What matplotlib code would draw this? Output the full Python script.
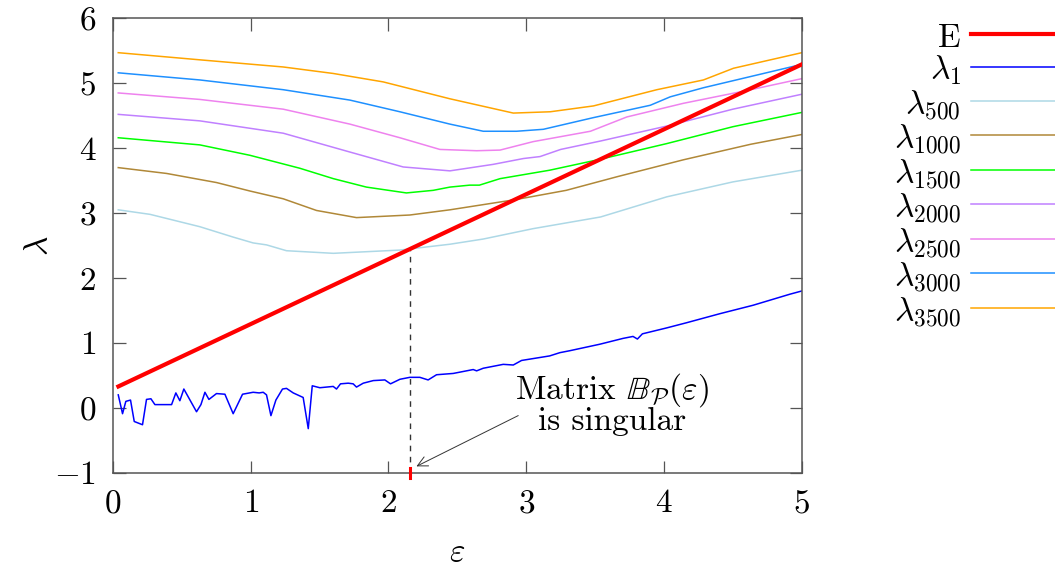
import matplotlib
matplotlib.use('Agg')
import matplotlib.pyplot as plt

plt.rcParams['font.family'] = 'serif'
plt.rcParams['font.serif'] = ['cmr10']
plt.rcParams['mathtext.fontset'] = 'cm'
plt.rcParams['axes.formatter.use_mathtext'] = True
plt.rcParams['axes.unicode_minus'] = True

# ---- data ----
eps_E = [0.04, 5.0]
E = [0.33, 5.29]

eps_l1 = [0.039, 0.07, 0.094, 0.128, 0.155, 0.215, 0.244, 0.276, 0.305, 0.426, 0.457,
          0.486, 0.515, 0.607, 0.639, 0.668, 0.697, 0.752, 0.813, 0.873, 0.941, 1.018,
          1.062, 1.091, 1.115, 1.147, 1.183, 1.231, 1.26, 1.309, 1.381, 1.418, 1.447,
          1.502, 1.599, 1.623, 1.652, 1.708, 1.744, 1.768, 1.817, 1.89, 1.974, 2.015,
          2.083, 2.155, 2.228, 2.288, 2.349, 2.47, 2.615, 2.64, 2.688, 2.833, 2.906,
          2.966, 3.17, 3.244, 3.316, 3.534, 3.703, 3.775, 3.807, 3.843, 4.017, 4.162,
          4.405, 4.646, 4.913, 5.0]
l1 = [0.2, -0.09, 0.1, 0.12, -0.21, -0.26, 0.13, 0.14, 0.05, 0.05, 0.23,
      0.11, 0.29, -0.06, 0.05, 0.24, 0.13, 0.22, 0.21, -0.09, 0.21, 0.24,
      0.23, 0.24, 0.2, -0.12, 0.12, 0.29, 0.3, 0.23, 0.16, -0.32, 0.34,
      0.31, 0.33, 0.29, 0.37, 0.38, 0.37, 0.32, 0.38, 0.42, 0.43, 0.37,
      0.44, 0.47, 0.47, 0.43, 0.51, 0.53, 0.59, 0.57, 0.61, 0.67, 0.66,
      0.73, 0.8, 0.85, 0.88, 0.98, 1.07, 1.1, 1.06, 1.14, 1.23, 1.31,
      1.45, 1.58, 1.75, 1.8]

eps_l500 = [0.039, 0.27, 0.631, 0.873, 1.018, 1.115, 1.26, 1.6, 2.083, 2.446, 2.688,
            3.05, 3.54, 4.02, 4.5, 5.0]
l500 = [3.05, 2.98, 2.79, 2.63, 2.54, 2.51, 2.42, 2.38, 2.43, 2.52, 2.6,
        2.76, 2.94, 3.25, 3.48, 3.66]

eps_l1000 = [0.039, 0.39, 0.752, 0.994, 1.236, 1.478, 1.768, 1.962, 2.155, 2.446, 2.93,
             3.29, 3.66, 4.14, 4.63, 5.0]
l1000 = [3.7, 3.61, 3.47, 3.34, 3.22, 3.04, 2.93, 2.95, 2.97, 3.05, 3.21,
         3.35, 3.56, 3.82, 4.06, 4.21]

eps_l1500 = [0.039, 0.631, 0.994, 1.357, 1.6, 1.84, 2.13, 2.325, 2.446, 2.59, 2.66,
             2.81, 3.17, 3.54, 4.02, 4.5, 5.0]
l1500 = [4.16, 4.05, 3.89, 3.69, 3.53, 3.4, 3.31, 3.35, 3.4, 3.43, 3.43,
         3.53, 3.66, 3.83, 4.07, 4.33, 4.55]

eps_l2000 = [0.039, 0.631, 1.236, 1.72, 2.107, 2.446, 2.76, 2.98, 3.1, 3.25, 3.54,
             4.02, 4.5, 5.0]
l2000 = [4.52, 4.42, 4.23, 3.94, 3.71, 3.65, 3.75, 3.84, 3.87, 3.98, 4.11,
         4.34, 4.6, 4.83]

eps_l2500 = [0.039, 0.631, 1.236, 1.72, 2.083, 2.373, 2.64, 2.81, 3.05, 3.466, 3.73,
             4.14, 4.63, 5.0]
l2500 = [4.85, 4.75, 4.6, 4.37, 4.16, 3.98, 3.96, 3.97, 4.1, 4.26, 4.48,
         4.69, 4.9, 5.07]

eps_l3000 = [0.039, 0.631, 1.236, 1.72, 2.083, 2.446, 2.688, 2.93, 3.124, 3.488, 3.9,
             4.045, 4.286, 5.0]
l3000 = [5.16, 5.05, 4.9, 4.74, 4.56, 4.37, 4.26, 4.26, 4.29, 4.47, 4.66,
         4.79, 4.93, 5.29]

eps_l3500 = [0.039, 0.631, 1.236, 1.599, 1.962, 2.204, 2.446, 2.906, 3.174, 3.488, 3.948,
             4.286, 4.504, 5.0]
l3500 = [5.47, 5.36, 5.25, 5.15, 5.02, 4.89, 4.76, 4.54, 4.56, 4.65, 4.9,
         5.05, 5.23, 5.47]

eps_singular = 2.155
E_singular = 2.46

xticks = [0, 1, 2, 3, 4, 5]
yticks = [-1, 0, 1, 2, 3, 4, 5, 6]

fig = plt.figure(figsize=(10.55, 5.71), dpi=100)
ax = fig.add_axes([0.107, 0.172, 0.653, 0.796])

ax.plot(eps_E, E, color='#ff0000', lw=3.0, label='E', zorder=5)
ax.plot(eps_l1, l1, color='#0000ff', lw=1.1, label=r'$\lambda_{1}$')
series = [
    (eps_l500, l500, '#add8e6', r'$\lambda_{500}$'),
    (eps_l1000, l1000, '#b08838', r'$\lambda_{1000}$'),
    (eps_l1500, l1500, '#00ff00', r'$\lambda_{1500}$'),
    (eps_l2000, l2000, '#c080ff', r'$\lambda_{2000}$'),
    (eps_l2500, l2500, '#ee82ee', r'$\lambda_{2500}$'),
    (eps_l3000, l3000, '#1e90ff', r'$\lambda_{3000}$'),
    (eps_l3500, l3500, '#ffa500', r'$\lambda_{3500}$'),
]
for xs, ys, c, lab in series:
    ax.plot(xs, ys, color=c, lw=1.1, label=lab)

# singular point marker
ax.plot([eps_singular, eps_singular], [-1, E_singular], ls=(0, (4, 4)), color='#333333', lw=1.0)
ax.plot([eps_singular, eps_singular], [-1.08, -0.93], color='#ff0000', lw=2.2, clip_on=False, zorder=6)

ax.annotate('', xy=(eps_singular + 0.03, -0.92), xytext=(2.96, -0.1),
            arrowprops=dict(arrowstyle='->', color='#333333', lw=0.7, mutation_scale=18))
ax.text(3.62, 0.07, 'Matrix $\\mathbb{B}_{\\mathcal{P}}(\\varepsilon)$\nis singular',
        ha='center', va='center', fontsize=24, linespacing=0.9)

ax.set_xlim(0, 5)
ax.set_ylim(-1, 6)
ax.set_xticks(xticks)
ax.set_yticks(yticks)
ax.tick_params(direction='in', length=9, width=0.9, color='#555555', top=True, right=True,
               labelsize=24, pad=12)
for s in ax.spines.values():
    s.set_color('#555555')
    s.set_linewidth(1.1)

ax.set_xlabel(r'$\varepsilon$', fontsize=24, labelpad=14)
ax.set_ylabel(r'$\lambda$', fontsize=24, labelpad=0)

ax.legend(loc='upper right', bbox_to_anchor=(1.034, 0.963), bbox_transform=fig.transFigure,
          markerfirst=False, frameon=False, fontsize=24, handlelength=3.6, handletextpad=0.3,
          handleheight=1.0, labelspacing=0.0, borderpad=0, borderaxespad=0)

fig.savefig('out.png', dpi=100)
